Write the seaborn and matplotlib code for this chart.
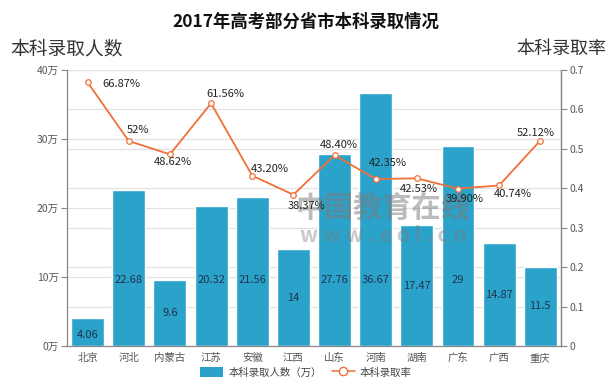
import numpy as np
import pandas as pd
import matplotlib
matplotlib.use("Agg")
import matplotlib.pyplot as plt
import seaborn as sns
from matplotlib.patches import Patch
from matplotlib.lines import Line2D

provinces = ["北京", "河北", "内蒙古", "江苏", "安徽", "江西", "山东", "河南", "湖南", "广东", "广西", "重庆"]
admitted = [4.06, 22.68, 9.6, 20.32, 21.56, 14, 27.76, 36.67, 17.47, 29, 14.87, 11.5]
admitted_labels = ["4.06", "22.68", "9.6", "20.32", "21.56", "14", "27.76", "36.67", "17.47", "29", "14.87", "11.5"]
rates = [0.6687, 0.52, 0.4862, 0.6156, 0.4320, 0.3837, 0.4840, 0.4235, 0.4253, 0.3990, 0.4074, 0.5212]
rate_labels = ["66.87%", "52%", "48.62%", "61.56%", "43.20%", "38.37%", "48.40%", "42.35%", "42.53%", "39.90%", "40.74%", "52.12%"]
left_ticks = [0, 10, 20, 30, 40]
left_tick_labels = ["0万", "10万", "20万", "30万", "40万"]
right_ticks = [0, 0.1, 0.2, 0.3, 0.4, 0.5, 0.6, 0.7]
right_tick_labels = ["0", "0.1", "0.2", "0.3", "0.4", "0.5", "0.6", "0.7"]

# label offsets (pixels) for rate labels
rate_offsets = [(34, -2), (9, 11), (3, -8), (14, 9), (18, 7), (13, -11),
                (4, 10), (12, 16), (2, -11), (7, -10), (14, -9), (-5, 8)]

sns.set_theme(style="white")
plt.rcParams["font.family"] = ["Noto Sans CJK SC", "DejaVu Sans"]
plt.rcParams["axes.unicode_minus"] = False

BAR = "#2ba2c9"
LINE = "#f07038"
GRID = "#e2e2e2"
AX = "#888888"
TXT = "#555555"

df = pd.DataFrame({"province": provinces, "admitted": admitted})

fig = plt.figure(figsize=(6.12, 3.87), dpi=100)
ax = fig.add_axes([0.1095, 0.106, 0.807, 0.713])

# gridlines (both axes' ticks) drawn beneath bars
for v in left_ticks[1:]:
    ax.axhline(v, color=GRID, lw=0.9, zorder=0)
for r in right_ticks[1:]:
    ax.axhline(r / 0.7 * 40, color=GRID, lw=0.9, zorder=0)

sns.barplot(data=df, x="province", y="admitted", order=provinces, color=BAR,
            saturation=1, width=0.8, ax=ax, zorder=2)
ax.set_xlim(-0.5, len(provinces) - 0.5)
ax.set_ylim(0, 40)
ax.set_yticks(left_ticks)
ax.set_yticklabels(left_tick_labels)
ax.set_xlabel("")
ax.set_ylabel("")

for i, (v, lab) in enumerate(zip(admitted, admitted_labels)):
    ax.text(i, min(v / 2, 9.5) if v > 5 else v * 0.4, lab, ha="center", va="center",
            fontsize=8, color="#1f3550", zorder=5)

# watermark
ax.text(0.64, 0.50, "中国教育在线", transform=ax.transAxes, ha="center", va="center",
        fontsize=21, fontweight="bold", color="#7a7a7a", alpha=0.5, zorder=3)
ax.text(0.64, 0.40, "w w w . e o l . c n", transform=ax.transAxes, ha="center", va="center",
        fontsize=15, fontweight="bold", color="#7a7a7a", alpha=0.4, zorder=3)

ax2 = ax.twinx()
sns.lineplot(x=np.arange(len(rates)), y=rates, ax=ax2, color=LINE, lw=1.3,
             marker="o", markersize=4, markerfacecolor="white",
             markeredgecolor=LINE, markeredgewidth=0.9, zorder=6)
ax2.set_ylim(0, 0.7)
ax2.set_yticks(right_ticks)
ax2.set_yticklabels(right_tick_labels)
ax2.set_ylabel("")

for i, (r, lab) in enumerate(zip(rates, rate_labels)):
    dx, dy = rate_offsets[i]
    ax2.annotate(lab, (i, r), xytext=(dx, dy), textcoords="offset pixels",
                 ha="center", va="center", fontsize=8, color="#222222", zorder=7)

# spines & ticks
for a in (ax, ax2):
    a.spines["top"].set_visible(False)
    for s in ("left", "right", "bottom"):
        a.spines[s].set_color(AX)
        a.spines[s].set_linewidth(0.9)
    a.tick_params(axis="y", colors=TXT, labelsize=7.5, length=4, width=0.8, color=AX, pad=2)
ax2.spines["left"].set_visible(False)
ax2.spines["bottom"].set_visible(False)

ax.set_xticks(np.arange(len(provinces)))
ax.set_xticklabels(provinces)
ax.tick_params(axis="x", which="major", length=0, labelsize=7.5, colors=TXT, pad=5)
ax.set_xticks(np.arange(len(provinces) + 1) - 0.5, minor=True)
ax.tick_params(axis="x", which="minor", length=4, width=0.8, color=AX)
ax.grid(False)
ax2.grid(False)

# titles
fig.text(0.5, 0.943, "2017年高考部分省市本科录取情况", ha="center", va="center",
         fontsize=12.5, fontweight="bold", color="#111111")
fig.text(0.016, 0.873, "本科录取人数", ha="left", va="center", fontsize=13.5, color="#333333")
fig.text(0.99, 0.873, "本科录取率", ha="right", va="center", fontsize=13, color="#333333")

# legend
handles = [Patch(facecolor=BAR, edgecolor="none", label="本科录取人数（万）"),
           Line2D([0], [0], color=LINE, lw=1.1, marker="o", markersize=6,
                  markerfacecolor="white", markeredgecolor=LINE, label="本科录取率")]
leg = fig.legend(handles=handles, loc="center", bbox_to_anchor=(0.5, 0.038), ncol=2,
                 frameon=False, fontsize=7.5, handlelength=2.2, handleheight=1.1,
                 columnspacing=1.0, handletextpad=0.5)
for t in leg.get_texts():
    t.set_color("#444444")

fig.savefig("out.png", dpi=100)
